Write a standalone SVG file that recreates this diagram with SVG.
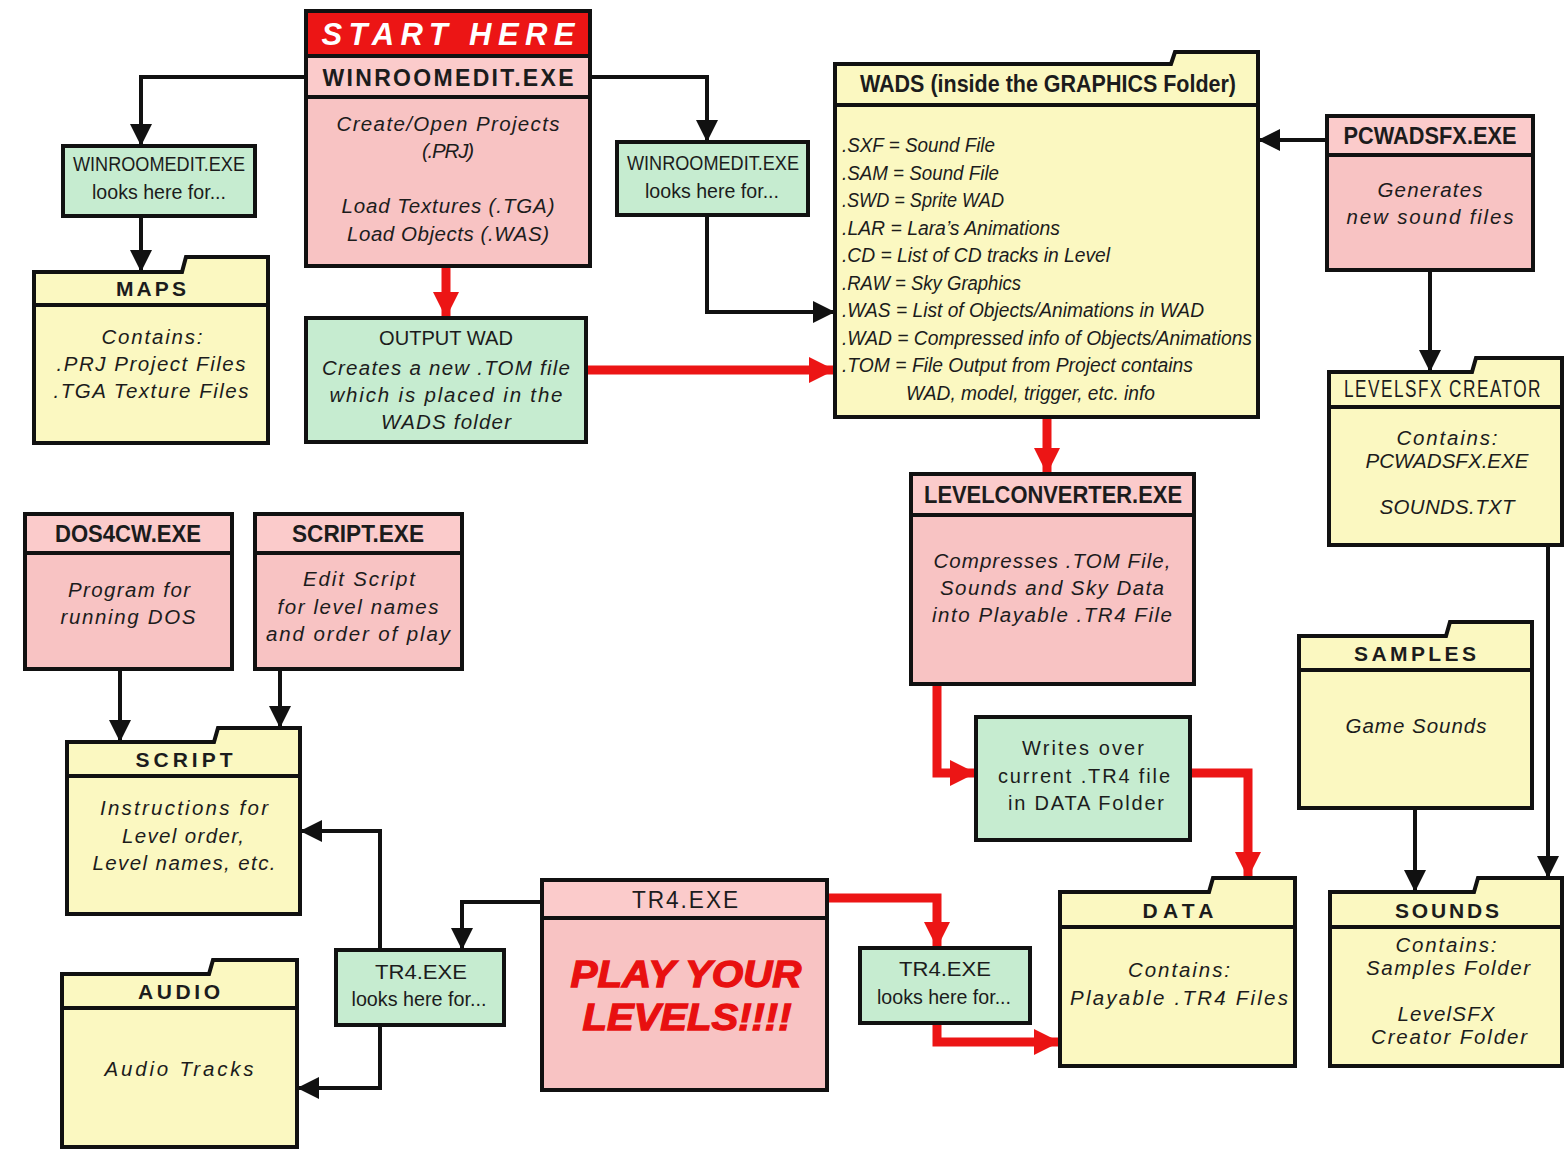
<svg xmlns="http://www.w3.org/2000/svg" width="1566" height="1154" viewBox="0 0 1566 1154">
<defs>
<style>
.bx{stroke:#111;stroke-width:4;stroke-linejoin:miter}
.pk{fill:#f8c3c3}
.pkh{fill:#fbcbcb}
.gn{fill:#c6ecd0}
.yl{fill:#fbf8c1}
.rd{fill:#ec1515}
.sep{stroke:#111;stroke-width:4}
.cb{fill:none;stroke:#111;stroke-width:4}
.cr{fill:none;stroke:#ec1515;stroke-width:9}
text{fill:#1c1c1c;text-anchor:middle}
.h{font-family:"Liberation Sans Narrow","Liberation Sans",Arial,sans-serif;font-weight:bold;font-size:23px}
.hn{font-family:"Liberation Sans Narrow","Liberation Sans",Arial,sans-serif;font-size:23px;letter-spacing:2px}
.f{font-family:"Liberation Sans",Arial,sans-serif;font-weight:bold;font-size:21px}
.i{font-family:"Liberation Sans",Arial,sans-serif;font-style:italic;font-size:20.5px}
.r{font-family:"Liberation Sans",Arial,sans-serif;font-size:20px}
.w{font-family:"Liberation Sans Narrow","Liberation Sans",Arial,sans-serif;font-style:italic;font-size:20px;text-anchor:start}
.g{font-family:"Liberation Sans Narrow","Liberation Sans",Arial,sans-serif;font-size:21px}
.st{font-family:"Liberation Sans",Arial,sans-serif;font-weight:bold;font-style:italic;font-size:31px;fill:#fff}
.pl{font-family:"Liberation Sans",Arial,sans-serif;font-weight:bold;font-style:italic;font-size:37px;fill:#e81010;stroke:#e81010;stroke-width:1.3}
</style>
<marker id="ab" markerUnits="userSpaceOnUse" markerWidth="22" markerHeight="22" viewBox="0 0 20 20" refX="20" refY="10" orient="auto"><path d="M0,0 L20,10 L0,20 z" fill="#111"/></marker>
<marker id="ar" markerUnits="userSpaceOnUse" markerWidth="26" markerHeight="26" viewBox="0 0 20 20" refX="20" refY="10" orient="auto"><path d="M0,0 L20,10 L0,20 z" fill="#ec1515"/></marker>
</defs>
<rect width="1566" height="1154" fill="#fff"/>

<g id="connectors">
<path class="cb" d="M306,77 H141 V146" marker-end="url(#ab)"/>
<path class="cb" d="M141,216 V272" marker-end="url(#ab)"/>
<path class="cb" d="M590,77 H707 V142" marker-end="url(#ab)"/>
<path class="cb" d="M707,215 V312 H835" marker-end="url(#ab)"/>
<path class="cb" d="M1327,140 H1258" marker-end="url(#ab)"/>
<path class="cb" d="M1430,270 V372" marker-end="url(#ab)"/>
<path class="cb" d="M1548,545 V878" marker-end="url(#ab)"/>
<path class="cb" d="M1415,808 V892" marker-end="url(#ab)"/>
<path class="cb" d="M120,669 V742" marker-end="url(#ab)"/>
<path class="cb" d="M280,669 V728" marker-end="url(#ab)"/>
<path class="cb" d="M542,902 H462 V950" marker-end="url(#ab)"/>
<path class="cb" d="M380,950 V831 H300" marker-end="url(#ab)"/>
<path class="cb" d="M380,1025 V1088 H297" marker-end="url(#ab)"/>
<path class="cr" d="M446,266 V318" marker-end="url(#ar)"/>
<path class="cr" d="M586,370 H835" marker-end="url(#ar)"/>
<path class="cr" d="M1047,417 V474" marker-end="url(#ar)"/>
<path class="cr" d="M937,684 V773 H976" marker-end="url(#ar)"/>
<path class="cr" d="M1190,773 H1248 V878" marker-end="url(#ar)"/>
<path class="cr" d="M827,898 H937 V948" marker-end="url(#ar)"/>
<path class="cr" d="M937,1023 V1042 H1060" marker-end="url(#ar)"/>
</g>

<g id="start">
<rect class="bx pk" x="306" y="11" width="284" height="255"/>
<rect class="bx rd" x="306" y="11" width="284" height="45"/>
<rect class="bx pkh" x="306" y="56" width="284" height="41"/>
<text class="st" x="448" y="45" textLength="253">START HERE</text>
<text class="h" x="448" y="86" textLength="251">WINROOMEDIT.EXE</text>
<text class="i" x="448" y="131" textLength="223">Create/Open Projects</text>
<text class="i" x="448" y="158" textLength="52">(.PRJ)</text>
<text class="i" x="448" y="213" textLength="213">Load Textures (.TGA)</text>
<text class="i" x="448" y="241" textLength="202">Load Objects (.WAS)</text>
</g>

<g id="look-left">
<rect class="bx gn" x="63" y="146" width="192" height="70"/>
<text class="g" x="159" y="171" textLength="172" lengthAdjust="spacingAndGlyphs">WINROOMEDIT.EXE</text>
<text class="g" x="159" y="199" textLength="134" lengthAdjust="spacingAndGlyphs">looks here for...</text>
</g>

<g id="look-right">
<rect class="bx gn" x="617" y="142" width="191" height="73"/>
<text class="g" x="713" y="170" textLength="172" lengthAdjust="spacingAndGlyphs">WINROOMEDIT.EXE</text>
<text class="g" x="712" y="198" textLength="134" lengthAdjust="spacingAndGlyphs">looks here for...</text>
</g>

<g id="maps">
<path class="bx yl" d="M34,443 V272 H182 L186,257 H268 V443 Z"/>
<line class="sep" x1="34" y1="305" x2="268" y2="305"/>
<text class="f" x="151" y="296" textLength="70">MAPS</text>
<text class="i" x="152" y="344" textLength="101">Contains:</text>
<text class="i" x="151" y="371" textLength="189">.PRJ Project Files</text>
<text class="i" x="151" y="398" textLength="195">.TGA Texture Files</text>
</g>

<g id="output-wad">
<rect class="bx gn" x="306" y="318" width="280" height="124"/>
<text class="g" x="446" y="345" textLength="134" lengthAdjust="spacingAndGlyphs">OUTPUT WAD</text>
<text class="i" x="446" y="375" textLength="248">Creates a new .TOM file</text>
<text class="i" x="446" y="402" textLength="233">which is placed in the</text>
<text class="i" x="446" y="429" textLength="130">WADS folder</text>
</g>

<g id="wads">
<path class="bx yl" d="M835,417 V64 H1171 L1175,52 H1258 V417 Z"/>
<line class="sep" x1="835" y1="105" x2="1258" y2="105"/>
<text class="h" x="1048" y="92" textLength="376" lengthAdjust="spacingAndGlyphs">WADS (inside the GRAPHICS Folder)</text>
<text class="w" x="842" y="152" textLength="153" lengthAdjust="spacingAndGlyphs">.SXF = Sound File</text>
<text class="w" x="842" y="180" textLength="157" lengthAdjust="spacingAndGlyphs">.SAM = Sound File</text>
<text class="w" x="842" y="207" textLength="162" lengthAdjust="spacingAndGlyphs">.SWD = Sprite WAD</text>
<text class="w" x="842" y="235" textLength="218" lengthAdjust="spacingAndGlyphs">.LAR = Lara’s Animations</text>
<text class="w" x="842" y="262" textLength="268" lengthAdjust="spacingAndGlyphs">.CD = List of CD tracks in Level</text>
<text class="w" x="842" y="290" textLength="179" lengthAdjust="spacingAndGlyphs">.RAW = Sky Graphics</text>
<text class="w" x="842" y="317" textLength="362" lengthAdjust="spacingAndGlyphs">.WAS = List of Objects/Animations in WAD</text>
<text class="w" x="842" y="345" textLength="410" lengthAdjust="spacingAndGlyphs">.WAD = Compressed info of Objects/Animations</text>
<text class="w" x="842" y="372" textLength="351" lengthAdjust="spacingAndGlyphs">.TOM = File Output from Project contains</text>
<text class="w" x="906" y="400" textLength="249" lengthAdjust="spacingAndGlyphs">WAD, model, trigger, etc. info</text>
</g>

<g id="pcwadsfx">
<rect class="bx pk" x="1327" y="116" width="206" height="154"/>
<rect class="bx pkh" x="1327" y="116" width="206" height="39"/>
<text class="h" x="1430" y="144" textLength="173" lengthAdjust="spacingAndGlyphs">PCWADSFX.EXE</text>
<text class="i" x="1430" y="197" textLength="105">Generates</text>
<text class="i" x="1430" y="224" textLength="167">new sound files</text>
</g>

<g id="levelsfx">
<path class="bx yl" d="M1329,545 V372 H1472 L1476,358 H1562 V545 Z"/>
<line class="sep" x1="1329" y1="407" x2="1562" y2="407"/>
<text class="hn" x="1443" y="397" textLength="198" lengthAdjust="spacingAndGlyphs">LEVELSFX CREATOR</text>
<text class="i" x="1447" y="445" textLength="101">Contains:</text>
<text class="i" x="1447" y="468" textLength="163" lengthAdjust="spacingAndGlyphs">PCWADSFX.EXE</text>
<text class="i" x="1447" y="514" textLength="135">SOUNDS.TXT</text>
</g>

<g id="levelconverter">
<rect class="bx pk" x="911" y="474" width="283" height="210"/>
<rect class="bx pkh" x="911" y="474" width="283" height="41"/>
<text class="h" x="1053" y="503" textLength="258" lengthAdjust="spacingAndGlyphs">LEVELCONVERTER.EXE</text>
<text class="i" x="1052" y="568" textLength="237">Compresses .TOM File,</text>
<text class="i" x="1052" y="595" textLength="224">Sounds and Sky Data</text>
<text class="i" x="1052" y="622" textLength="240">into Playable .TR4 File</text>
</g>

<g id="writes-over">
<rect class="bx gn" x="976" y="717" width="214" height="123"/>
<text class="r" x="1083" y="755" textLength="122">Writes over</text>
<text class="r" x="1084" y="783" textLength="172">current .TR4 file</text>
<text class="r" x="1086" y="810" textLength="156">in DATA Folder</text>
</g>

<g id="samples">
<path class="bx yl" d="M1299,808 V636 H1446 L1450,622 H1532 V808 Z"/>
<line class="sep" x1="1299" y1="670" x2="1532" y2="670"/>
<text class="f" x="1415" y="661" textLength="122">SAMPLES</text>
<text class="i" x="1416" y="733" textLength="141">Game Sounds</text>
</g>

<g id="dos4cw">
<rect class="bx pk" x="25" y="514" width="207" height="155"/>
<rect class="bx pkh" x="25" y="514" width="207" height="39"/>
<text class="h" x="128" y="542" textLength="146" lengthAdjust="spacingAndGlyphs">DOS4CW.EXE</text>
<text class="i" x="129" y="597" textLength="122">Program for</text>
<text class="i" x="128" y="624" textLength="135">running DOS</text>
</g>

<g id="script-exe">
<rect class="bx pk" x="255" y="514" width="207" height="155"/>
<rect class="bx pkh" x="255" y="514" width="207" height="39"/>
<text class="h" x="358" y="542" textLength="132" lengthAdjust="spacingAndGlyphs">SCRIPT.EXE</text>
<text class="i" x="359" y="586" textLength="112">Edit Script</text>
<text class="i" x="358" y="614" textLength="161">for level names</text>
<text class="i" x="358" y="641" textLength="184">and order of play</text>
</g>

<g id="script">
<path class="bx yl" d="M67,914 V742 H214 L218,728 H300 V914 Z"/>
<line class="sep" x1="67" y1="776" x2="300" y2="776"/>
<text class="f" x="184" y="767" textLength="97">SCRIPT</text>
<text class="i" x="184" y="815" textLength="168">Instructions for</text>
<text class="i" x="183" y="843" textLength="122">Level order,</text>
<text class="i" x="184" y="870" textLength="183">Level names, etc.</text>
</g>

<g id="audio">
<path class="bx yl" d="M62,1147 V974 H209 L213,960 H297 V1147 Z"/>
<line class="sep" x1="62" y1="1008" x2="297" y2="1008"/>
<text class="f" x="179" y="999" textLength="82">AUDIO</text>
<text class="i" x="179" y="1076" textLength="149">Audio Tracks</text>
</g>

<g id="tr4-look-left">
<rect class="bx gn" x="336" y="950" width="168" height="75"/>
<text class="g" x="421" y="979" textLength="92" lengthAdjust="spacingAndGlyphs">TR4.EXE</text>
<text class="g" x="419" y="1006" textLength="135" lengthAdjust="spacingAndGlyphs">looks here for...</text>
</g>

<g id="tr4">
<rect class="bx pk" x="542" y="880" width="285" height="210"/>
<rect class="bx pkh" x="542" y="880" width="285" height="38"/>
<text class="hn" x="686" y="908" textLength="108" lengthAdjust="spacingAndGlyphs">TR4.EXE</text>
<text class="pl" x="686" y="987" textLength="231" lengthAdjust="spacingAndGlyphs">PLAY YOUR</text>
<text class="pl" x="687" y="1030" textLength="209" lengthAdjust="spacingAndGlyphs">LEVELS!!!!</text>
</g>

<g id="tr4-look-right">
<rect class="bx gn" x="860" y="948" width="170" height="75"/>
<text class="g" x="945" y="976" textLength="92" lengthAdjust="spacingAndGlyphs">TR4.EXE</text>
<text class="g" x="944" y="1004" textLength="134" lengthAdjust="spacingAndGlyphs">looks here for...</text>
</g>

<g id="data">
<path class="bx yl" d="M1060,1066 V892 H1209 L1213,878 H1295 V1066 Z"/>
<line class="sep" x1="1060" y1="927" x2="1295" y2="927"/>
<text class="f" x="1178" y="918" textLength="71">DATA</text>
<text class="i" x="1179" y="977" textLength="102">Contains:</text>
<text class="i" x="1179" y="1005" textLength="218">Playable .TR4 Files</text>
</g>

<g id="sounds">
<path class="bx yl" d="M1330,1066 V892 H1474 L1478,878 H1562 V1066 Z"/>
<line class="sep" x1="1330" y1="927" x2="1562" y2="927"/>
<text class="f" x="1447" y="918" textLength="104">SOUNDS</text>
<text class="i" x="1446" y="952" textLength="101">Contains:</text>
<text class="i" x="1448" y="975" textLength="164">Samples Folder</text>
<text class="i" x="1446" y="1021" textLength="97">LevelSFX</text>
<text class="i" x="1449" y="1044" textLength="156">Creator Folder</text>
</g>
</svg>
